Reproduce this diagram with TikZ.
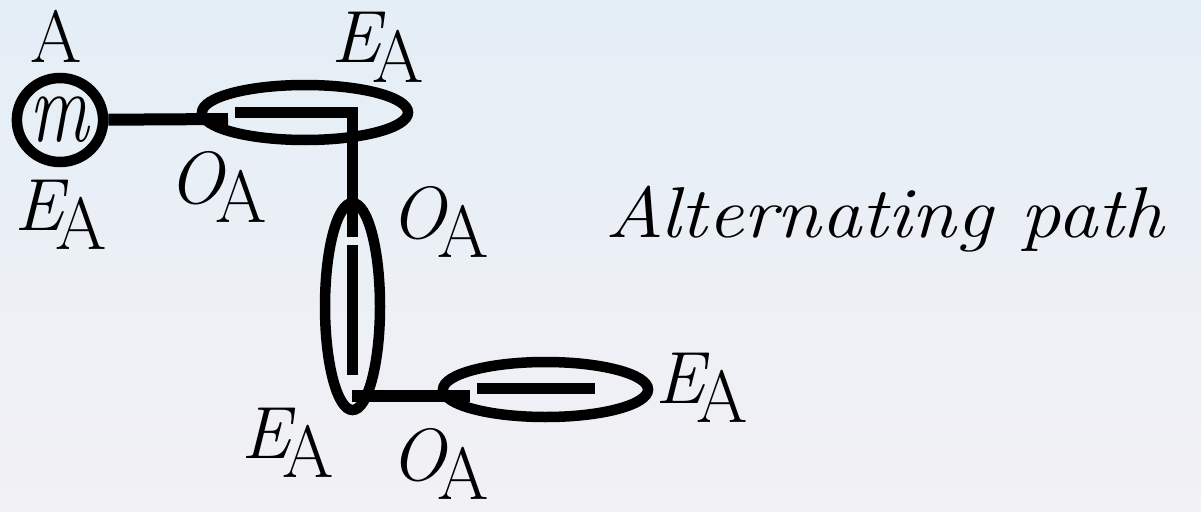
\documentclass[tikz,border=0pt]{standalone}
\usetikzlibrary{shapes.geometric}
\definecolor{bgtop}{RGB}{228,238,246}
\definecolor{bgbot}{RGB}{242,241,245}
\newcommand{\lblE}{\textit{E}\kern-0.17em\raisebox{-0.27em}{A}}
\newcommand{\lblO}{\textit{O}\kern-0.14em\raisebox{-0.27em}{A}}
\begin{document}
\begin{tikzpicture}[x=1pt,y=-1pt,
  ring/.style={draw,line width=10.5pt,ellipse,inner sep=0pt},
  conn/.style={line width=12pt},
  bar/.style={line width=11pt},
  lbl/.style={anchor=base west,inner sep=0pt,font=\fontsize{74}{90}\selectfont}]
\shade[top color=bgtop,bottom color=bgbot] (0,0) rectangle (1201,511);
\useasboundingbox (0,0) rectangle (1201,511);
% vertices
\node[ring,minimum width=76pt,minimum height=84pt] (v0) at (60,120)
  {\scalebox{0.95}[1.3]{\fontsize{78}{80}\selectfont\textit{m}}};
\node[ring,minimum width=206pt,minimum height=55pt] (e1) at (305,112.5) {};
\node[ring,minimum width=55pt,minimum height=207pt] (e2) at (352.5,306.5) {};
\node[ring,minimum width=205pt,minimum height=55pt] (e3) at (545.5,389.5) {};
% connector points
\coordinate (c1) at (228,119);
\coordinate (b1a) at (235,112.5);
\coordinate (b1b) at (352,112.5);
\coordinate (v1) at (352,237);
\coordinate (b2a) at (352,245);
\coordinate (b2b) at (352,375);
\coordinate (c2a) at (352,396);
\coordinate (c2b) at (470,396);
\coordinate (b3a) at (477,388);
\coordinate (b3b) at (595,388);
\draw[conn] (v0) -- (c1);
\draw[bar,line join=miter] (b1a) -- (b1b) -- (v1);
\draw[bar] (b2a) -- (b2b);
\draw[conn] (c2a) -- (c2b);
\draw[bar] (b3a) -- (b3b);
% labels
\node[lbl] (la) at (30,63) {A};
\node[lbl] (l1) at (14,230) {\lblE};
\node[lbl] (l2) at (168,203) {\lblO};
\node[lbl] (l3) at (331,63) {\lblE};
\node[lbl] (l4) at (390,238) {\lblO};
\node[lbl] (l5) at (655,403) {\lblE};
\node[lbl] (l6) at (390,480) {\lblO};
\node[lbl] (l7) at (241,458) {\lblE};
\node[anchor=base west,inner sep=0pt] (title) at (605,237)
  {\scalebox{1.12}[1]{\fontsize{72}{86}\selectfont\itshape Alternating path}};
\end{tikzpicture}
\end{document}
